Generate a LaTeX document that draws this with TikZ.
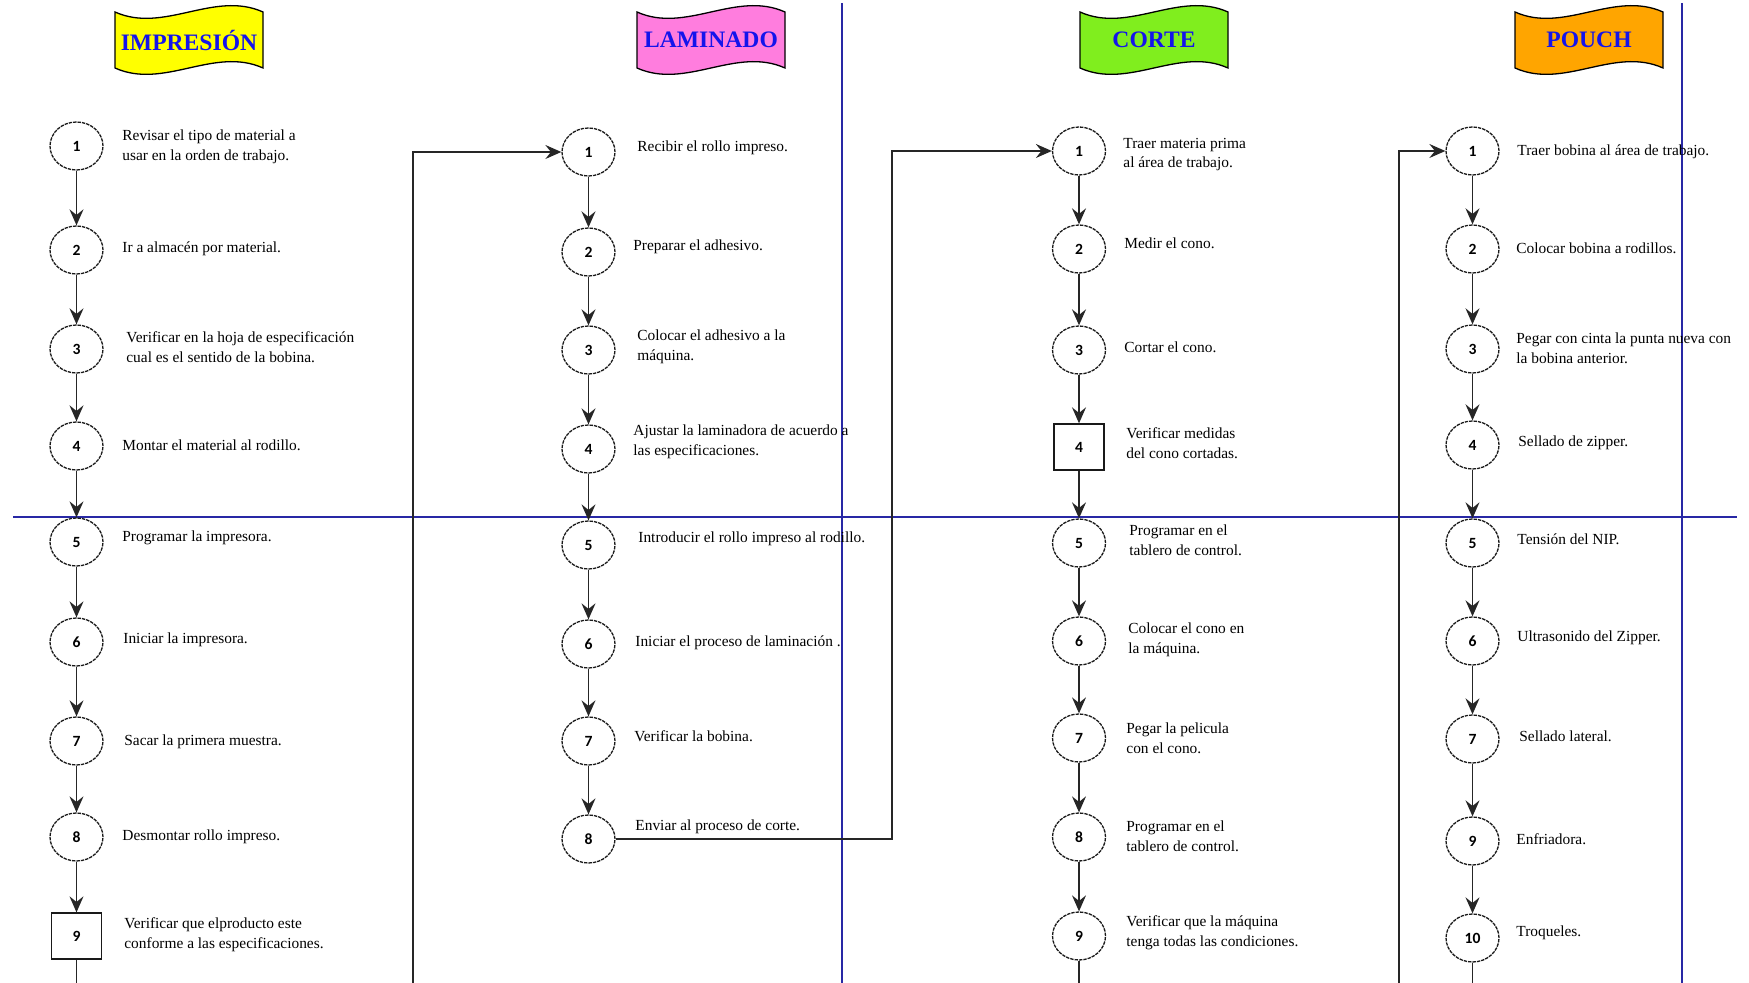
\documentclass[tikz,border=0pt]{standalone}
\usepackage{fontspec}
\setmainfont{Liberation Serif}
\newfontfamily\numfont{Carlito}
\usetikzlibrary{arrows.meta,shapes.geometric,calc}

\definecolor{laneblue}{RGB}{40,40,165}
\definecolor{titleblue}{RGB}{20,20,235}
\definecolor{flagyellow}{RGB}{255,255,0}
\definecolor{flagpink}{RGB}{255,125,222}
\definecolor{flaggreen}{RGB}{128,238,30}
\definecolor{flagorange}{RGB}{255,165,0}

% wavy department flag: name, centre x, fill colour, title
\newcommand\deptflag[4]{%
  \draw[flagline, fill=#3] (#2-74,12) .. controls (#2-25,34) and (#2+25,-10) .. (#2+74,12)
    -- (#2+74,68) .. controls (#2+25,46) and (#2-25,90) .. (#2-74,68) -- cycle;
  \node[flagtext] (#1) at (#2,40) {#4};}

\begin{document}
\begin{tikzpicture}[x=0.5pt,y=-0.5pt,
  opstep/.style={ellipse, draw=black!90, line width=0.65pt, dash pattern=on 1.7pt off 0.5pt,
    minimum width=26.5pt, minimum height=24pt, inner sep=0pt,
    font=\numfont\bfseries\fontsize{7.8}{9}\selectfont},
  inspect/.style={rectangle, draw=black!90, line width=0.65pt, minimum width=25pt,
    minimum height=23pt, inner sep=0pt, font=\numfont\bfseries\fontsize{7.8}{9}\selectfont},
  desc/.style={anchor=west, align=left, inner sep=0pt, font=\fontsize{7.7}{9.8}\selectfont},
  flow/.style={draw=black!85, line width=0.75pt, -{Stealth[length=8pt,width=7pt,inset=2.8pt]}},
  plain/.style={draw=black!85, line width=0.75pt},
  lane/.style={draw=laneblue, line width=0.6pt},
  flagtext/.style={font=\bfseries\fontsize{11.8}{12}\selectfont, text=titleblue, inner sep=0pt},
  flagline/.style={draw=black, line width=0.65pt}]

\useasboundingbox (0,0) rectangle (1749,983);

% swimlane rules
\draw[lane] (13,517) -- (1737,517);
\draw[lane] (842,3) -- (842,983);
\draw[lane] (1682,3) -- (1682,983);

% department flags
\deptflag{tImp}{189}{flagyellow}{IMPRESIÓN}
\deptflag{tLam}{711}{flagpink}{LAMINADO}
\deptflag{tCor}{1154}{flaggreen}{CORTE}
\deptflag{tPou}{1589}{flagorange}{POUCH}

% ---------------- IMPRESIÓN ----------------
\node[opstep] (I1) at (76.5,146) {1};
\node[opstep] (I2) at (76.5,250) {2};
\node[opstep] (I3) at (76.5,349) {3};
\node[opstep] (I4) at (76.5,446) {4};
\node[opstep] (I5) at (76.5,542) {5};
\node[opstep] (I6) at (76.5,642) {6};
\node[opstep] (I7) at (76.5,741) {7};
\node[opstep] (I8) at (76.5,837) {8};
\node[inspect] (I9) at (76.5,936) {9};

\node[desc] (dI1) at (122,147) {Revisar el tipo de material a\\usar en la orden de trabajo.};
\node[desc] (dI2) at (122,249) {Ir a almacén por material.};
\node[desc] (dI3) at (126,347) {Verificar en la hoja de especificación\\cual es el sentido de la bobina.};
\node[desc] (dI4) at (122,445) {Montar el material al rodillo.};
\node[desc] (dI5) at (122,538) {Programar la impresora.};
\node[desc] (dI6) at (123,640) {Iniciar la impresora.};
\node[desc] (dI7) at (124,742) {Sacar la primera muestra.};
\node[desc] (dI8) at (122,837) {Desmontar rollo impreso.};
\node[desc] (dI9) at (124,935) {Verificar que elproducto este\\conforme a las especificaciones.};

\draw[flow] (I1) -- (I2);
\draw[flow] (I2) -- (I3);
\draw[flow] (I3) -- (I4);
\draw[flow] (I4) -- (I5);
\draw[flow] (I5) -- (I6);
\draw[flow] (I6) -- (I7);
\draw[flow] (I7) -- (I8);
\draw[flow] (I8) -- (I9);
\coordinate (outI) at (76.5,983);
\draw[plain] (I9) -- (outI);

% ---------------- LAMINADO ----------------
\node[opstep] (L1) at (588.5,152) {1};
\node[opstep] (L2) at (588.5,252) {2};
\node[opstep] (L3) at (588.5,350) {3};
\node[opstep] (L4) at (588.5,449) {4};
\node[opstep] (L5) at (588.5,545) {5};
\node[opstep] (L6) at (588.5,644) {6};
\node[opstep] (L7) at (588.5,741) {7};
\node[opstep] (L8) at (588.5,839) {8};

\node[desc] (dL1) at (637,148) {Recibir el rollo impreso.};
\node[desc] (dL2) at (633,247) {Preparar el adhesivo.};
\node[desc] (dL3) at (637,347) {Colocar el adhesivo a la\\máquina.};
\node[desc] (dL4) at (633,442) {Ajustar la laminadora de acuerdo a\\las especificaciones.};
\node[desc] (dL5) at (638,539) {Introducir el rollo impreso al rodillo.};
\node[desc] (dL6) at (635,643) {Iniciar el proceso de laminación .};
\node[desc] (dL7) at (634,736) {Verificar la bobina.};
\node[desc] (dL8) at (635,827) {Enviar al proceso de corte.};

\draw[flow] (L1) -- (L2);
\draw[flow] (L2) -- (L3);
\draw[flow] (L3) -- (L4);
\draw[flow] (L4) -- (L5);
\draw[flow] (L5) -- (L6);
\draw[flow] (L6) -- (L7);
\draw[flow] (L7) -- (L8);

% ---------------- CORTE ----------------
\node[opstep] (C1) at (1079,151) {1};
\node[opstep] (C2) at (1079,249) {2};
\node[opstep] (C3) at (1079,350) {3};
\node[inspect] (C4) at (1079,447) {4};
\node[opstep] (C5) at (1079,543) {5};
\node[opstep] (C6) at (1079,641) {6};
\node[opstep] (C7) at (1079,738) {7};
\node[opstep] (C8) at (1079,837) {8};
\node[opstep] (C9) at (1079,936) {9};

\node[desc] (dC1) at (1123,154.5) {Traer materia prima\\al área de trabajo.};
\node[desc] (dC2) at (1124,243) {Medir el cono.};
\node[desc] (dC3) at (1124,347) {Cortar el cono.};
\node[desc] (dC4) at (1126,443) {Verificar medidas\\del cono cortadas.};
\node[desc] (dC5) at (1129,540.5) {Programar en el\\tablero de control.};
\node[desc] (dC6) at (1128,640) {Colocar el cono en\\la máquina.};
\node[desc] (dC7) at (1126,738) {Pegar la pelicula\\con el cono.};
\node[desc] (dC8) at (1126,836) {Programar en el\\tablero de control.};
\node[desc] (dC9) at (1126,933) {Verificar que la máquina\\tenga todas las condiciones.};

\draw[flow] (C1) -- (C2);
\draw[flow] (C2) -- (C3);
\draw[flow] (C3) -- (C4);
\draw[flow] (C4) -- (C5);
\draw[flow] (C5) -- (C6);
\draw[flow] (C6) -- (C7);
\draw[flow] (C7) -- (C8);
\draw[flow] (C8) -- (C9);
\coordinate (outC) at (1079,983);
\draw[plain] (C9) -- (outC);

% ---------------- POUCH ----------------
\node[opstep] (P1) at (1472.5,151) {1};
\node[opstep] (P2) at (1472.5,249) {2};
\node[opstep] (P3) at (1472.5,349) {3};
\node[opstep] (P4) at (1472.5,445) {4};
\node[opstep] (P5) at (1472.5,543) {5};
\node[opstep] (P6) at (1472.5,641) {6};
\node[opstep] (P7) at (1472.5,739) {7};
\node[opstep] (P9) at (1472.5,841) {9};
\node[opstep] (P10) at (1472.5,938) {10};

\node[desc] (dP1) at (1517,152) {Traer bobina al área de trabajo.};
\node[desc] (dP2) at (1516,248) {Colocar bobina a rodillos.};
\node[desc] (dP3) at (1516,348) {Pegar con cinta la punta nueva con\\la bobina anterior.};
\node[desc] (dP4) at (1518,443) {Sellado de zipper.};
\node[desc] (dP5) at (1517,539) {Tensión del NIP.};
\node[desc] (dP6) at (1517,638) {Ultrasonido del Zipper.};
\node[desc] (dP7) at (1519,736) {Sellado lateral.};
\node[desc] (dP9) at (1516,839) {Enfriadora.};
\node[desc] (dP10) at (1516,933) {Troqueles.};

\draw[flow] (P1) -- (P2);
\draw[flow] (P2) -- (P3);
\draw[flow] (P3) -- (P4);
\draw[flow] (P4) -- (P5);
\draw[flow] (P5) -- (P6);
\draw[flow] (P6) -- (P7);
\draw[flow] (P7) -- (P9);
\draw[flow] (P9) -- (P10);
\coordinate (outP) at (1472.5,983);
\draw[plain] (P10) -- (outP);

% ---------------- hand-offs between departments ----------------
\coordinate (inL) at (413,983);
\draw[flow] (inL) |- (L1);
\coordinate (jC) at (892,839);
\draw[flow] (L8) -- (jC) |- (C1);
\coordinate (inP) at (1399,983);
\draw[flow] (inP) |- (P1);

\end{tikzpicture}
\end{document}
